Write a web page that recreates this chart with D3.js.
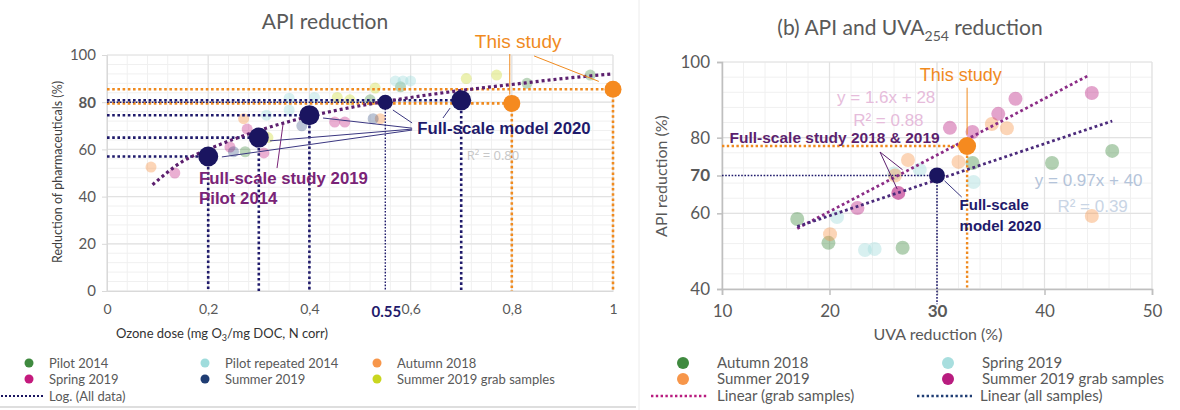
<!DOCTYPE html>
<html>
<head>
<meta charset="utf-8">
<script src="https://cdn.jsdelivr.net/npm/d3@7"></script>
<style>
  body { margin: 0; background: #fff; }
  svg { display: block; font-family: "Open Sans", sans-serif; }
  .tick text { fill: #595959; }
</style>
</head>
<body>
<svg id="chart" width="1180" height="410"></svg>
<script>
// ---------- LEFT PANEL DATA (ozone dose vs reduction) ----------
var leftPilot2014      = [[0.273, 59], [0.52, 81], [0.58, 86.5], [0.83, 88], [0.955, 91.5]];
var leftPilotRepeated  = [[0.315, 74.5], [0.36, 81.7], [0.36, 76.7], [0.41, 82], [0.57, 89], [0.585, 89], [0.6, 89]];
var leftAutumn2018     = [[0.087, 52.5], [0.27, 73], [0.54, 73], [0.2, 58]];
var leftSpring2019     = [[0.134, 50], [0.243, 61], [0.277, 68.6], [0.31, 58.5], [0.45, 71.6], [0.47, 71.6]];
var leftSummer2019     = [[0.25, 59], [0.385, 70], [0.526, 73], [0.2, 56]];
var leftGrab2019       = [[0.318, 65], [0.455, 82], [0.48, 81], [0.53, 86], [0.71, 90], [0.77, 91.5]];
var leftLogTrend       = [[0.09, 45], [0.15, 55], [0.2, 60], [0.3, 68], [0.4, 74], [0.5, 78.5], [0.6, 82], [0.7, 85], [0.8, 87.5], [0.9, 90], [1.0, 92]];
var modelDose          = [0.2, 0.3, 0.4, 0.55, 0.7];
var modelReduction     = [57, 65, 74.5, 80, 80.8];
var studyDose          = [0.8, 1.0];
var studyReduction     = [79.5, 85.5];
var leftXTicks         = [0, 0.2, 0.4, 0.6, 0.8, 1];
var leftXTickLabels    = ["0", "0,2", "0,4", "0,6", "0,8", "1"];
var leftYTicks         = [0, 20, 40, 60, 80, 100];

// ---------- RIGHT PANEL DATA (UVA vs API reduction) ----------
var rightAutumn2018    = [[17, 58.5], [19.9, 52.2], [26.8, 50.9], [33.3, 73.3], [40.7, 73.3], [46.3, 76.5]];
var rightSpring2019    = [[20.7, 59], [23.3, 50.3], [24.2, 50.6], [28.4, 71.5], [33.4, 68.3], [26, 70.5]];
var rightSummer2019    = [[20.05, 54.5], [26.1, 70], [27.3, 74.1], [32, 73.6], [35.1, 83.6], [36.5, 82.5], [44.4, 59.3]];
var rightGrab2019      = [[22.6, 61.4], [31.2, 82.6], [33.3, 81.5], [35.7, 86.3], [37.3, 90.3], [44.4, 91.8]];
var rightGrabHighlight = [[26.4, 65.4]];
var grabTrend          = [[17, 56], [44, 96.3]];
var allTrend           = [[17, 56.5], [46.3, 84.4]];
var modelUva = 30, modelApi = 70;
var studyUva = 32.8, studyApi = 77.8;
var rightXTicks        = [10, 20, 30, 40, 50];
var rightYTicks        = [40, 60, 70, 80, 100];

var svg = d3.select("#chart");

var defs = svg.append("defs");
var addArrow = function(id, color)
{
    defs.append("marker")
        .attr("id", id)
        .attr("viewBox", "0 0 10 10")
        .attr("refX", 9).attr("refY", 5)
        .attr("markerWidth", 7).attr("markerHeight", 7)
        .attr("orient", "auto-start-reverse")
        .append("path")
        .attr("d", "M0,1 L10,5 L0,9 z")
        .attr("fill", color);
}
addArrow("arNavy", "#1f1a6b");
addArrow("arPurple", "#7a2477");
addArrow("arOrange", "#f08a1e");

var drawGrid = function(g, x, y, xMinor, yMinor, xMajor, yMajor)
{
    g.selectAll(".minx").data(xMinor).enter().append("line")
        .attr("x1", d => x(d)).attr("x2", d => x(d))
        .attr("y1", y.range()[0]).attr("y2", y.range()[1])
        .attr("stroke", "#f0f0f0").attr("stroke-width", 1);
    g.selectAll(".miny").data(yMinor).enter().append("line")
        .attr("y1", d => y(d)).attr("y2", d => y(d))
        .attr("x1", x.range()[0]).attr("x2", x.range()[1])
        .attr("stroke", "#f0f0f0").attr("stroke-width", 1);
    g.selectAll(".majx").data(xMajor).enter().append("line")
        .attr("x1", d => x(d)).attr("x2", d => x(d))
        .attr("y1", y.range()[0]).attr("y2", y.range()[1])
        .attr("stroke", "#e2e2e2").attr("stroke-width", 1.2);
    g.selectAll(".majy").data(yMajor).enter().append("line")
        .attr("y1", d => y(d)).attr("y2", d => y(d))
        .attr("x1", x.range()[0]).attr("x2", x.range()[1])
        .attr("stroke", "#e2e2e2").attr("stroke-width", 1.2);
}

var drawPoints = function(g, data, x, y, color, r, op)
{
    g.append("g").selectAll("circle")
        .data(data).enter().append("circle")
        .attr("cx", d => x(d[0]))
        .attr("cy", d => y(d[1]))
        .attr("r", r)
        .attr("fill", color)
        .attr("fill-opacity", op);
}

var dotted = function(g, pts, x, y, color, w, dash)
{
    g.append("path")
        .attr("d", d3.line().x(d => x(d[0])).y(d => y(d[1]))(pts))
        .attr("fill", "none")
        .attr("stroke", color)
        .attr("stroke-width", w)
        .attr("stroke-dasharray", dash);
}

var arrow = function(g, from, to, x, y, color, marker, w)
{
    g.append("line")
        .attr("x1", x(from[0])).attr("y1", y(from[1]))
        .attr("x2", x(to[0])).attr("y2", y(to[1]))
        .attr("stroke", color).attr("stroke-width", w)
        .attr("marker-end", "url(#" + marker + ")");
}

var label = function(g, txt, xv, yv, x, y, size, color, weight, anchor)
{
    return g.append("text")
        .attr("x", x(xv)).attr("y", y(yv))
        .attr("font-size", size)
        .attr("fill", color)
        .attr("font-weight", weight || "normal")
        .attr("text-anchor", anchor || "start")
        .text(txt);
}

// =====================  LEFT PANEL  =====================
var setupLeft = function()
{
    var x = d3.scaleLinear().domain([0, 1]).range([107, 613]);
    var y = d3.scaleLinear().domain([0, 100]).range([291, 55]);
    var g = svg.append("g").attr("id", "left");

    drawGrid(g, x, y, d3.range(0, 1.001, 0.04), d3.range(0, 101, 4), leftXTicks, leftYTicks);

    g.append("g")
        .attr("transform", "translate(0," + y(0) + ")")
        .call(d3.axisBottom(x).tickValues(leftXTicks).tickFormat((d, i) => leftXTickLabels[i]).tickSize(0).tickPadding(13))
        .call(a => a.select(".domain").attr("stroke", "#d9d9d9"))
        .selectAll("text").attr("font-size", 14).attr("font-family", "Lato");

    g.append("g")
        .attr("transform", "translate(" + x(0) + ",0)")
        .call(d3.axisLeft(y).tickValues(leftYTicks).tickSize(5).tickPadding(6))
        .call(a => a.select(".domain").attr("stroke", "#d9d9d9"))
        .call(a => a.selectAll("line").attr("stroke", "#d9d9d9"))
        .selectAll("text").attr("font-size", 15).attr("font-family", "Lato")
        .attr("fill", d => d == 80 ? "#1f1a6b" : "#595959")
        .attr("font-weight", d => d == 80 ? "bold" : "normal");

    // highlighted tick 0.55
    g.append("text")
        .attr("x", x(0.55) + 1).attr("y", y(0) + 26)
        .attr("text-anchor", "middle")
        .attr("font-size", 15).attr("font-weight", "bold")
        .attr("font-family", "Lato")
        .attr("fill", "#1f1a6b").text("0.55");

    // scatter (faded)
    drawPoints(g, leftPilot2014, x, y, "#3f8a3f", 5.5, 0.35);
    drawPoints(g, leftPilotRepeated, x, y, "#9fdcdc", 5.5, 0.4);
    drawPoints(g, leftAutumn2018, x, y, "#f7964a", 5.5, 0.4);
    drawPoints(g, leftSpring2019, x, y, "#c41a7d", 5.5, 0.35);
    drawPoints(g, leftSummer2019, x, y, "#1f3d73", 5.5, 0.3);
    drawPoints(g, leftGrab2019, x, y, "#c9d620", 5.5, 0.35);

    // orange guide lines (this study)
    studyDose.forEach(function(d, i)
    {
        dotted(g, [[0, studyReduction[i]], [d, studyReduction[i]]], x, y, "#f08a1e", 2.6, "2.6,2.6");
        dotted(g, [[d, studyReduction[i]], [d, 0]], x, y, "#f08a1e", 2.6, "2.6,2.6");
    });

    // navy guide lines (model)
    modelDose.forEach(function(d, i)
    {
        var thin = d == 0.55;
        var w = thin ? 1.4 : 2.6;
        var dash = thin ? "1.6,1.6" : "2.6,2.6";
        dotted(g, [[0, modelReduction[i]], [d, modelReduction[i]]], x, y, "#1f1a6b", w, dash);
        dotted(g, [[d, modelReduction[i]], [d, 0]], x, y, "#1f1a6b", w, dash);
    });

    // log trend
    g.append("path")
        .attr("d", d3.line().curve(d3.curveMonotoneX).x(d => x(d[0])).y(d => y(d[1]))(leftLogTrend))
        .attr("fill", "none")
        .attr("stroke", "#5c1f6e")
        .attr("stroke-width", 3.2)
        .attr("stroke-dasharray", "3,3");

    // big markers
    g.append("g").selectAll("circle")
        .data(modelDose).enter().append("circle")
        .attr("cx", d => x(d))
        .attr("cy", (d, i) => y(modelReduction[i]))
        .attr("r", d => d == 0.55 ? 7.5 : 10)
        .attr("fill", "#1a1560");
    g.append("g").selectAll("circle")
        .data(studyDose).enter().append("circle")
        .attr("cx", d => x(d))
        .attr("cy", (d, i) => y(studyReduction[i]))
        .attr("r", 8.5)
        .attr("fill", "#f58a1f");

    // annotations
    label(g, "R\u00b2 = 0.80", 0.711, 55.3, x, y, 13, "#c6c6c6");
    label(g, "Full-scale study 2019", 0.182, 45.3, x, y, 16.8, "#7a2477", "bold").attr("font-family", "Liberation Sans");
    label(g, "Pilot 2014", 0.182, 36.9, x, y, 16.8, "#7a2477", "bold").attr("font-family", "Liberation Sans");
    label(g, "Full-scale model 2020", 0.613, 66.5, x, y, 16.8, "#1f1a6b", "bold").attr("font-family", "Liberation Sans");
    label(g, "This study", 0.727, 103, x, y, 19, "#f08a1e").attr("font-family", "Liberation Sans");

    arrow(g, [0.336, 52.1], [0.348, 70.8], x, y, "#7a2477", 1.2, "arPurple");
    arrow(g, [0.603, 68.2], [0.227, 56.8], x, y, "#3a3680", 1, "arNavy");
    arrow(g, [0.603, 68.6], [0.322, 63.6], x, y, "#3a3680", 1, "arNavy");
    arrow(g, [0.603, 69.0], [0.427, 73.3], x, y, "#3a3680", 1, "arNavy");
    arrow(g, [0.603, 71.2], [0.565, 76.7], x, y, "#3a3680", 1, "arNavy");
    arrow(g, [0.664, 73.3], [0.678, 77.5], x, y, "#3a3680", 1, "arNavy");
    arrow(g, [0.796, 100.4], [0.796, 83.2], x, y, "#f08a1e", 2, "arOrange");
    arrow(g, [0.844, 99.6], [0.972, 88.8], x, y, "#f08a1e", 2, "arOrange");

    // titles
    svg.append("text")
        .attr("x", 325).attr("y", 29)
        .attr("text-anchor", "middle")
        .attr("font-size", 21).attr("fill", "#595959")
        .attr("font-family", "Lato")
        .text("API reduction");

    var xt = svg.append("text")
        .attr("x", 222).attr("y", 338)
        .attr("text-anchor", "middle")
        .attr("font-size", 13).attr("fill", "#333")
        .attr("font-family", "Lato");
    xt.append("tspan").text("Ozone dose (mg O");
    xt.append("tspan").attr("font-size", 9).attr("dy", 3).text("3");
    xt.append("tspan").attr("dy", -3).text("/mg DOC, N corr)");

    svg.append("text")
        .attr("transform", "translate(62,172) rotate(-90)")
        .attr("text-anchor", "middle")
        .attr("font-size", 12.5).attr("fill", "#404040")
        .attr("font-family", "Lato")
        .text("Reduction of pharmaceuticals (%)");
}

// =====================  RIGHT PANEL  =====================
var setupRight = function()
{
    var x = d3.scaleLinear().domain([10, 50]).range([722, 1152]);
    var y = d3.scaleLinear().domain([40, 100]).range([289, 62]);
    var g = svg.append("g").attr("id", "right");

    drawGrid(g, x, y, d3.range(10, 50.1, 2), d3.range(40, 100.1, 4), rightXTicks, [40, 60, 80, 100]);

    g.append("g")
        .attr("transform", "translate(0," + y(40) + ")")
        .call(d3.axisBottom(x).tickValues(rightXTicks).tickSize(6).tickPadding(10))
        .call(a => a.select(".domain").attr("stroke", "#bfbfbf").attr("stroke-width", 1.5))
        .call(a => a.selectAll("line").attr("stroke", "#bfbfbf").attr("stroke-width", 1.5))
        .selectAll("text").attr("font-size", 17).attr("font-family", "Lato")
        .attr("fill", d => d == 30 ? "#1f1a6b" : "#595959")
        .attr("font-weight", d => d == 30 ? "bold" : "normal");

    g.append("g")
        .attr("transform", "translate(" + x(10) + ",0)")
        .call(d3.axisLeft(y).tickValues(rightYTicks).tickSize(5).tickPadding(7))
        .call(a => a.select(".domain").attr("stroke", "#bfbfbf").attr("stroke-width", 1.5))
        .call(a => a.selectAll("line").attr("stroke", "#bfbfbf").attr("stroke-width", 1.5))
        .selectAll("text").attr("font-size", 17).attr("font-family", "Lato")
        .attr("fill", d => d == 70 ? "#1f1a6b" : "#595959")
        .attr("font-weight", d => d == 70 ? "bold" : "normal");

    drawPoints(g, rightAutumn2018, x, y, "#3f8a3f", 7, 0.4);
    drawPoints(g, rightSpring2019, x, y, "#a8dede", 7, 0.45);
    drawPoints(g, rightSummer2019, x, y, "#f7964a", 7, 0.4);
    drawPoints(g, rightGrab2019, x, y, "#b81c7f", 7, 0.4);
    drawPoints(g, rightGrabHighlight, x, y, "#b81c7f", 7, 0.6);

    // guides
    dotted(g, [[10, studyApi], [studyUva, studyApi]], x, y, "#f08a1e", 2.4, "2.4,2.4");
    dotted(g, [[studyUva, studyApi], [studyUva, 40]], x, y, "#f08a1e", 2.4, "2.4,2.4");
    dotted(g, [[10, modelApi], [modelUva, modelApi]], x, y, "#1f1a6b", 1.5, "1.6,1.6");
    dotted(g, [[modelUva, modelApi], [modelUva, 36]], x, y, "#1f1a6b", 1.5, "1.6,1.6");

    // trend lines
    dotted(g, grabTrend, x, y, "#8b2c86", 2.8, "2.8,2.8");
    dotted(g, allTrend, x, y, "#4b2a7b", 2.8, "2.8,2.8");

    g.append("circle").attr("cx", x(modelUva)).attr("cy", y(modelApi)).attr("r", 8).attr("fill", "#1a1560");
    g.append("circle").attr("cx", x(studyUva)).attr("cy", y(studyApi)).attr("r", 9).attr("fill", "#f58a1f");

    label(g, "y = 1.6x + 28", 20.7, 89.2, x, y, 17, "#e6bcdb").attr("font-family", "Liberation Sans");
    label(g, "R\u00b2 = 0.88", 22.2, 83.1, x, y, 17, "#e6bcdb").attr("font-family", "Liberation Sans");
    label(g, "y = 0.97x + 40", 39.1, 67.2, x, y, 17, "#b4c4da").attr("font-family", "Liberation Sans");
    label(g, "R\u00b2 = 0.39", 41.2, 60.4, x, y, 17, "#c9d5e5").attr("font-family", "Liberation Sans");
    label(g, "This study", 28.4, 95.0, x, y, 18, "#f08a1e").attr("font-family", "Liberation Sans");
    label(g, "Full-scale study 2018 & 2019", 10.7, 78.7, x, y, 15.5, "#5c1f6e", "bold").attr("font-family", "Liberation Sans");
    label(g, "Full-scale", 32.1, 60.9, x, y, 15, "#1f1a6b", "bold").attr("font-family", "Liberation Sans");
    label(g, "model 2020", 32.1, 55.4, x, y, 15, "#1f1a6b", "bold").attr("font-family", "Liberation Sans");

    arrow(g, [32.8, 93.2], [32.8, 80.8], x, y, "#f08a1e", 2, "arOrange");
    arrow(g, [24.7, 76.2], [26.8, 71.5], x, y, "#5c1f6e", 1, "arPurple");
    arrow(g, [24.7, 76.2], [26.3, 66.4], x, y, "#5c1f6e", 1, "arPurple");
    arrow(g, [32.3, 64.3], [30.7, 68.6], x, y, "#3a3680", 1, "arNavy");

    var t = svg.append("text")
        .attr("x", 910).attr("y", 35)
        .attr("text-anchor", "middle")
        .attr("font-size", 21).attr("fill", "#595959")
        .attr("font-family", "Lato");
    t.append("tspan").text("(b) API and UVA");
    t.append("tspan").attr("font-size", 14).attr("dy", 6).text("254");
    t.append("tspan").attr("dy", -6).text(" reduction");

    svg.append("text")
        .attr("x", 938).attr("y", 340)
        .attr("text-anchor", "middle")
        .attr("font-size", 16).attr("fill", "#595959")
        .attr("font-family", "Lato")
        .text("UVA reduction (%)");

    svg.append("text")
        .attr("transform", "translate(667,176) rotate(-90)")
        .attr("text-anchor", "middle")
        .attr("font-size", 16).attr("fill", "#595959")
        .attr("font-family", "Lato")
        .text("API reduction (%)");
}

// =====================  LEGENDS  =====================
var leftLegend   = [["Pilot 2014", "#3f8a3f"], ["Pilot repeated 2014", "#9fdcdc"], ["Autumn 2018", "#f7964a"],
                    ["Spring 2019", "#c41a7d"], ["Summer 2019", "#1f3d73"], ["Summer 2019 grab samples", "#c9d620"]];
var rightLegend  = [["Autumn 2018", "#3f8a3f"], ["Spring 2019", "#a8dede"],
                    ["Summer 2019", "#f7964a"], ["Summer 2019 grab samples", "#b81c7f"]];

var drawLegends = function()
{
    var lcol = [29, 205, 377];
    var rowY = [363, 379, 396];
    var lg = svg.append("g").attr("font-family", "Lato").attr("font-size", 13).attr("fill", "#595959");
    leftLegend.forEach(function(d, i)
    {
        var cx = lcol[i % 3], cy = rowY[Math.floor(i / 3)];
        lg.append("circle").attr("cx", cx).attr("cy", cy).attr("r", 4.5).attr("fill", d[1]);
        lg.append("text").attr("x", cx + 20).attr("y", cy + 4.5).text(d[0]);
    });
    lg.append("line").attr("x1", 1).attr("x2", 44).attr("y1", rowY[2]).attr("y2", rowY[2])
        .attr("stroke", "#1a1560").attr("stroke-width", 2.2).attr("stroke-dasharray", "2,2");
    lg.append("text").attr("x", 49).attr("y", rowY[2] + 4.5).text("Log. (All data)");

    var rcol = [683, 948];
    var rg = svg.append("g").attr("font-family", "Lato").attr("font-size", 15).attr("fill", "#595959");
    rightLegend.forEach(function(d, i)
    {
        var cx = rcol[i % 2], cy = rowY[Math.floor(i / 2)];
        rg.append("circle").attr("cx", cx).attr("cy", cy).attr("r", 6).attr("fill", d[1]);
        rg.append("text").attr("x", cx + 34).attr("y", cy + 5).text(d[0]);
    });
    rg.append("line").attr("x1", 651).attr("x2", 708).attr("y1", rowY[2]).attr("y2", rowY[2])
        .attr("stroke", "#b81c7f").attr("stroke-width", 2.4).attr("stroke-dasharray", "2.4,2.4");
    rg.append("text").attr("x", 717).attr("y", rowY[2] + 5).text("Linear (grab samples)");
    rg.append("line").attr("x1", 917).attr("x2", 972).attr("y1", rowY[2]).attr("y2", rowY[2])
        .attr("stroke", "#1f3d73").attr("stroke-width", 2.4).attr("stroke-dasharray", "2.4,2.4");
    rg.append("text").attr("x", 980).attr("y", rowY[2] + 5).text("Linear (all samples)");

    // panel edges
    svg.append("line").attr("x1", 0).attr("x2", 636).attr("y1", 407).attr("y2", 407)
        .attr("stroke", "#bdbdbd").attr("stroke-width", 1);
    svg.append("line").attr("x1", 639).attr("x2", 639).attr("y1", 0).attr("y2", 410)
        .attr("stroke", "#ececec").attr("stroke-width", 1);
}

setupLeft();
setupRight();
drawLegends();
</script>
</body>
</html>
